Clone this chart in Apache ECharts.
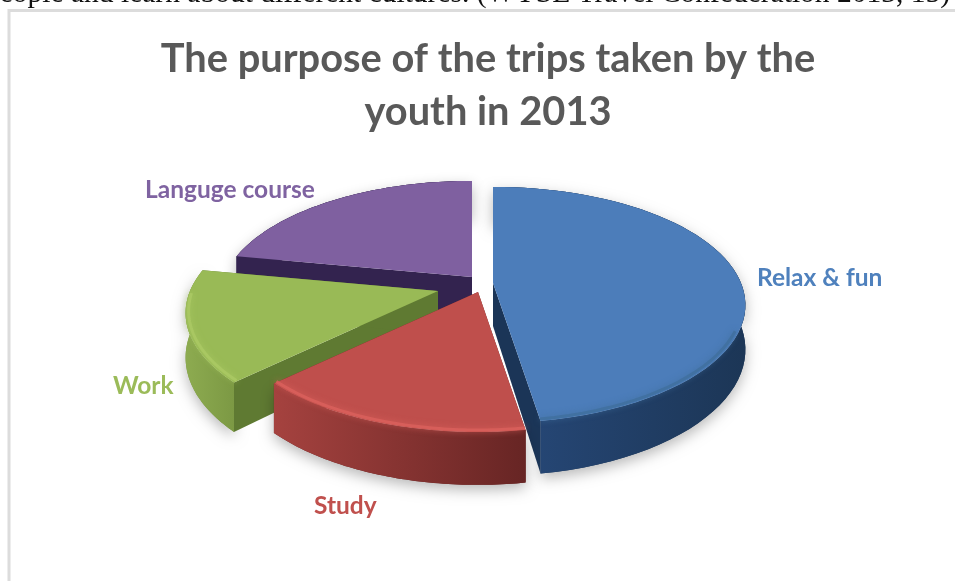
<!DOCTYPE html>
<html>
<head>
<meta charset="utf-8">
<style>html,body{margin:0;padding:0;background:#fff;overflow:hidden}#c{width:955px;height:581px}</style>
<script src="https://cdn.jsdelivr.net/npm/echarts@6/dist/echarts.min.js"></script>
</head>
<body>
<div id="c"></div>
<script>
// ---- data ----
const categories = ['Relax & fun', 'Study', 'Work', 'Languge course'];
const shares = [47.5, 15.2, 15.3, 22];
const titleText = 'The purpose of the trips taken by the\nyouth in 2013';
const bodyText = 'people and learn about different cultures. (WYSE Travel Confederation 2013, 15)';

// ---- style ----
const topColors = ['#4c7dba', '#bf4f4c', '#99ba56', '#7f60a0'];
const labelColors = ['#4f81bd', '#c0504d', '#9bbb59', '#7f63a1'];
const radialWall = ['#1b3557', '#6b2725', '#5f7a32', '#33234f'];
const outerWallLeft = ['#27497a', '#a5423f', '#8dab50', '#33234f'];
const outerWallRight = ['#1c3656', '#672524', '#7c9944', '#33234f'];
const rimColors = ['#41709f', '#d9605c', '#aac964', '#7f60a0'];

// ---- layout ----
const apexes = [[493, 283], [478, 292], [438, 291], [472, 277]];
const labelAnchors = [[757, 266], [314, 494], [113, 374], [145, 178]];
const paintOrder = [3, 2, 0, 1];
const RX = 248, RY = 114, PERSP = 0.186, WALL = 43;

const total = shares.reduce((a, b) => a + b, 0);
const starts = [];
shares.reduce((acc, v, i) => { starts[i] = acc; return acc + v; }, 0);

function project(apex, deg) {
  const a = deg * Math.PI / 180;
  const u = Math.sin(a), v = -Math.cos(a);
  const s = 1 / (1 - PERSP * v);
  return { x: apex[0] + RX * u * s, y: apex[1] + RY * v * s, s: s };
}
function linear(c0, c1) {
  return { type: 'linear', x: 0, y: 0, x2: 1, y2: 0, colorStops: [{ offset: 0, color: c0 }, { offset: 1, color: c1 }] };
}

function renderItem(params, api) {
  const idx = api.value(0);
  const share = api.value(1);
  const apex = apexes[idx];
  const a0 = starts[idx] / total * 360;
  const a1 = a0 + share / total * 360;
  const arc = [];
  const n = 60;
  for (let i = 0; i <= n; i++) arc.push(project(apex, a0 + (a1 - a0) * i / n));
  const topPts = arc.map(p => [p.x, p.y]);
  const botPts = arc.map(p => [p.x, p.y + WALL * p.s]);
  const wallPts = topPts.concat(botPts.slice().reverse());
  const first = arc[0], last = arc[n];
  const apexBottom = [apex[0], apex[1] + WALL];
  const children = [];
  // soft ground shadow
  children.push({ type: 'polygon', shape: { points: wallPts },
    style: { fill: outerWallRight[idx], shadowBlur: 14, shadowColor: 'rgba(0,0,0,0.28)', shadowOffsetY: 5 } });
  // radial walls
  [first, last].forEach(p => {
    children.push({ type: 'polygon', shape: { points: [
      [apex[0], apex[1]], [p.x, p.y], [p.x, p.y + WALL * p.s], apexBottom] },
      style: { fill: radialWall[idx] } });
  });
  // outer wall
  children.push({ type: 'polygon', shape: { points: wallPts },
    style: { fill: linear(outerWallLeft[idx], outerWallRight[idx]) } });
  // top face
  children.push({ type: 'polygon', shape: { points: [[apex[0], apex[1]]].concat(topPts) },
    style: { fill: topColors[idx] } });
  // rim highlight along the visible front of the arc
  const minDrop = idx === 0 ? 45 : 4;
  const rim = arc.filter(p => p.y > apex[1] + minDrop).map(p => [p.x - (p.x - apex[0]) * 0.012, p.y - 2]);
  if (rim.length > 1) {
    children.push({ type: 'polyline', shape: { points: rim },
      style: { fill: null, stroke: rimColors[idx], lineWidth: 3, opacity: 0.85, shadowBlur: 6, shadowColor: rimColors[idx] } });
  }
  // category label
  children.push({ type: 'text', style: {
    text: categories[idx], x: labelAnchors[idx][0], y: labelAnchors[idx][1],
    fill: labelColors[idx], font: 'bold 24.5px Lato', textAlign: 'left' } });
  return { type: 'group', children: children };
}

const chart = echarts.init(document.getElementById('c'), null, { renderer: 'canvas' });
chart.setOption({
  animation: false,
  backgroundColor: '#ffffff',
  title: {
    text: titleText, left: 483, top: 28, textAlign: 'center',
    textStyle: { color: '#595959', fontFamily: 'Lato', fontWeight: 'bold', fontSize: 39.8, lineHeight: 53 }
  },
  graphic: [
    { type: 'text', left: -15, top: -21, style: { text: bodyText, fill: '#111', font: '29.5px "Liberation Serif"' } },
    { type: 'rect', shape: { x: 9, y: 10.5, width: 960, height: 590 }, silent: true,
      style: { fill: 'none', stroke: '#dcdcdc', lineWidth: 3 } }
  ],
  series: [{
    type: 'custom',
    coordinateSystem: 'none',
    renderItem: renderItem,
    encode: { itemName: 0 },
    data: paintOrder.map(i => [i, shares[i]])
  }]
});
</script>
</body>
</html>
